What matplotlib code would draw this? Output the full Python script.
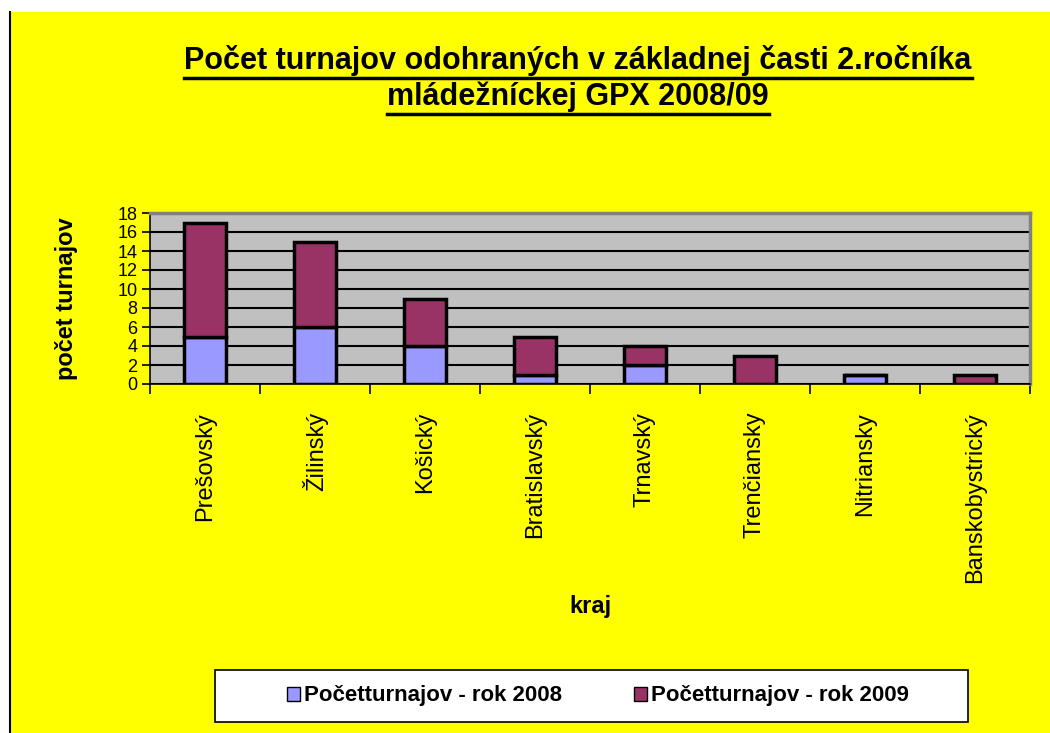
import matplotlib.pyplot as plt
import numpy as np
from matplotlib.patches import Rectangle
from matplotlib.lines import Line2D

plt.rcParams['font.family'] = ['Liberation Sans', 'DejaVu Sans']

kraje = ['Prešovský', 'Žilinský', 'Košický', 'Bratislavský', 'Trnavský',
         'Trenčiansky', 'Nitriansky', 'Banskobystrický']
rok_2008 = [5, 6, 4, 1, 2, 0, 1, 0]
rok_2009 = [12, 9, 5, 4, 2, 3, 0, 1]
y_ticks = [0, 2, 4, 6, 8, 10, 12, 14, 16, 18]

W, H = 1050, 733
fig = plt.figure(figsize=(10.5, 7.33), dpi=100, facecolor='white')

# yellow chart area with black left border
fig.patches.append(Rectangle((10 / W, 0), 1, 1 - 12 / H, transform=fig.transFigure,
                             facecolor='#FFFF00', edgecolor='none', zorder=-5))
fig.add_artist(Line2D([10 / W, 10 / W], [0, 1 - 12 / H], color='black', lw=1.5, zorder=-4))

ax = fig.add_axes([150 / W, 1 - 384 / H, 880 / W, 171 / H])
ax.set_facecolor('#C0C0C0')
x = np.arange(len(kraje))
ax.bar(x, rok_2008, width=0.38, color='#9999FF', edgecolor='black', lw=2.5,
       label='Početturnajov - rok 2008', zorder=3)
ax.bar(x, rok_2009, width=0.38, bottom=rok_2008, color='#993366', edgecolor='black', lw=2.5,
       label='Početturnajov - rok 2009', zorder=3)

ax.set_xlim(-0.5, len(kraje) - 0.5)
ax.set_ylim(0, 18)
ax.set_yticks(y_ticks)
ax.set_yticklabels([str(v) for v in y_ticks], fontsize=13)
ax.yaxis.grid(True, color='black', lw=1.5, zorder=1)
ax.set_axisbelow(True)
ax.tick_params(axis='y', length=6, width=1.2, direction='out', pad=3)

ax.set_xticks(x)
ax.set_xticklabels(kraje, rotation=90, fontsize=17)
ax.set_xticks(np.arange(-0.5, len(kraje)), minor=True)
ax.tick_params(axis='x', which='major', length=0, pad=20)
ax.tick_params(axis='x', which='minor', length=7, width=1.2, direction='out')

for side in ['top', 'right']:
    ax.spines[side].set_color('#808080')
    ax.spines[side].set_linewidth(2.5)
ax.spines['left'].set_linewidth(1.2)
ax.spines['bottom'].set_linewidth(1.2)

ax.set_ylabel('počet turnajov', fontsize=17, fontweight='bold', labelpad=28)
fig.text(590 / W, 1 - 607 / H, 'kraj', fontsize=17, fontweight='bold', ha='center', va='center')

# title with underline
t1 = fig.text(578 / W, 1 - 60 / H, 'Počet turnajov odohraných v základnej časti 2.ročníka',
              fontsize=22, fontweight='bold', ha='center', va='center')
t2 = fig.text(578 / W, 1 - 97 / H, 'mládežníckej GPX 2008/09',
              fontsize=22, fontweight='bold', ha='center', va='center')
fig.canvas.draw()
r = fig.canvas.get_renderer()
for t in (t1, t2):
    bb = t.get_window_extent(r).transformed(fig.transFigure.inverted())
    fig.add_artist(Line2D([bb.x0, bb.x1], [bb.y0 - 2 / H, bb.y0 - 2 / H], color='black', lw=2.5))

# legend box
fig.patches.append(Rectangle((215 / W, 1 - 722 / H), 753 / W, 52 / H, transform=fig.transFigure,
                             facecolor='white', edgecolor='black', lw=1.2, zorder=1))
handles, labels = ax.get_legend_handles_labels()
leg = fig.legend(handles, labels, loc='center', bbox_to_anchor=(598 / W, 1 - 696 / H),
                 ncol=2, frameon=False, prop={'weight': 'bold', 'size': 16},
                 handlelength=0.6, handleheight=0.6, handletextpad=0.2, columnspacing=3.2)
leg.set_zorder(2)
for h in leg.legend_handles:
    h.set_linewidth(1)

fig.savefig('out.png', dpi=100, facecolor=fig.get_facecolor())
